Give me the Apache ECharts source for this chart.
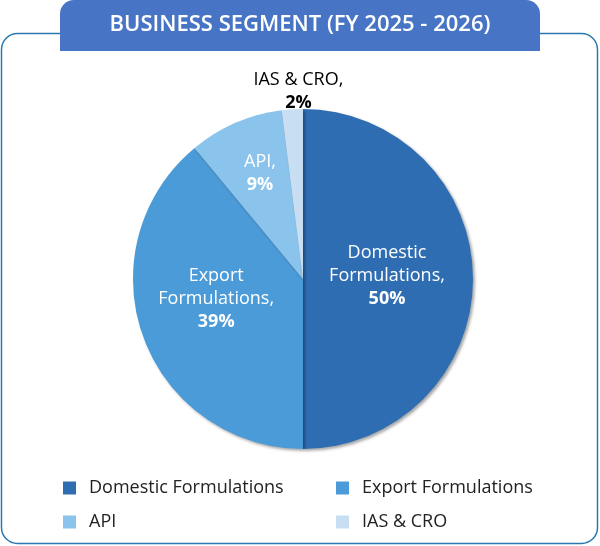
<!DOCTYPE html><html><head><meta charset="utf-8"><script src="https://cdn.jsdelivr.net/npm/echarts@6/dist/echarts.min.js"></script>
<style>html,body{margin:0;padding:0;background:#fff}#c{width:600px;height:546px}</style></head><body><div id="c"></div><script>
const categories=['Domestic Formulations','Export Formulations','API','IAS & CRO'];
const labelNames=['Domestic\nFormulations,','Export\nFormulations,','API,','IAS & CRO,'];
const values=[50,39,9,2];
const colors=['#2f6db3','#4b9bd9','#8ac3ec','#c8dff3'];
const chart=echarts.init(document.getElementById('c'));
const F='"Open Sans", sans-serif';
const offs=[[-4,-3],[-4,-10],[-8,-25],[0,0]];
const data=categories.map((n,i)=>({name:n,value:values[i],itemStyle:{color:colors[i]},
 label:i===3?{position:'outside',distance:6,color:'#000',textBorderWidth:0}:{position:'inside',color:'#fff',offset:offs[i]},
 labelLine:{show:false}}));
const lt={color:'#222',fontSize:18,fontFamily:F,padding:[0,0,0,8]};
const legPos=[[58,474],[331,474],[58,508],[331,508]];
chart.setOption({
 graphic:[
  {type:'rect',shape:{x:1.5,y:33.5,width:596,height:510,r:16},style:{fill:'none',stroke:'#2b78b0',lineWidth:1.5}},
  {type:'rect',shape:{x:60,y:0,width:480,height:51,r:[14,14,0,0]},style:{fill:'#4774c4'}},
  {type:'text',x:300,y:25,style:{text:'BUSINESS SEGMENT (FY 2025 - 2026)',fill:'#fff',font:'600 22px '+F,align:'center',verticalAlign:'middle'}}
 ],
 legend:categories.map((c,i)=>({left:legPos[i][0],top:legPos[i][1],itemWidth:13,itemHeight:13,itemGap:10,icon:'rect',textStyle:lt,data:[c]})),
 series:[{type:'pie',center:[303,279],radius:170,startAngle:90,clockwise:true,
  label:{fontFamily:F,fontSize:18,lineHeight:23,formatter:p=>labelNames[p.dataIndex]+'\n{b|'+p.value+'%}',
   rich:{b:{fontWeight:'bold',fontSize:18,fontFamily:F}}},
  labelLayout:p=>p.dataIndex===3?{dx:42,dy:-3,align:'center'}:{},
  itemStyle:{shadowBlur:3,shadowColor:'rgba(0,0,0,0.35)',shadowOffsetX:2,shadowOffsetY:2},
  emphasis:{disabled:true},data:data}]
});
</script></body></html>
